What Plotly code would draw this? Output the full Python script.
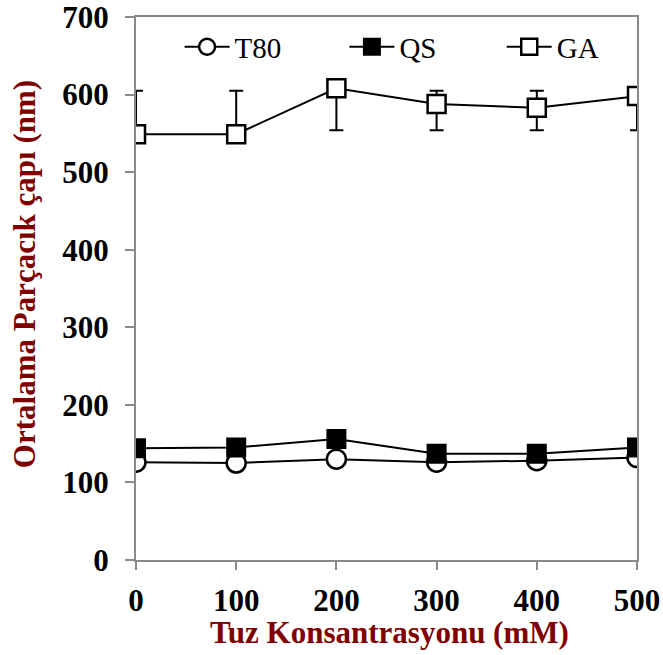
import plotly.graph_objects as go

salt = [0, 100, 200, 300, 400, 500]
t80 = [126, 125, 130, 126, 128, 132]
qs = [144, 145, 156, 137, 137, 145]
ga = [549, 549, 608, 588, 583, 598]
ga_err_plus = [56, 56, 0, 17, 22, 0]
ga_err_minus = [0, 0, 54, 34, 29, 44]

x_ticks = [0, 100, 200, 300, 400, 500]
y_ticks = [0, 100, 200, 300, 400, 500, 600, 700]

dark_red = "#7f0000"
axis_gray = "#8a8a8a"
serif = "Liberation Serif, Times New Roman, serif"

fig = go.Figure()

fig.add_trace(go.Scatter(
    x=salt, y=t80, name="T80", mode="lines+markers", legend="legend",
    line=dict(color="black", width=2),
    marker=dict(symbol="circle", size=19, color="white",
                line=dict(color="black", width=2.5)),
))
fig.add_trace(go.Scatter(
    x=salt, y=qs, name="QS", mode="lines+markers", legend="legend2",
    line=dict(color="black", width=2),
    marker=dict(symbol="square", size=18, color="black",
                line=dict(color="black", width=2)),
))
fig.add_trace(go.Scatter(
    x=salt, y=ga, name="GA", mode="lines+markers", legend="legend3",
    line=dict(color="black", width=2),
    marker=dict(symbol="square", size=18, color="white",
                line=dict(color="black", width=2.5)),
    error_y=dict(type="data", symmetric=False, array=ga_err_plus,
                 arrayminus=ga_err_minus, color="black", thickness=2, width=7),
))

leg_common = dict(orientation="h", y=0.945, xanchor="left", yanchor="middle",
                  font=dict(family=serif, size=29, color="black"),
                  bgcolor="rgba(0,0,0,0)", itemwidth=45)

fig.update_layout(
    width=663, height=655,
    margin=dict(l=136, r=26, t=17, b=95, autoexpand=False),
    paper_bgcolor="white", plot_bgcolor="white",
    font=dict(family=serif, color="black"),
    showlegend=True,
    legend=dict(x=0.087, **leg_common),
    legend2=dict(x=0.416, **leg_common),
    legend3=dict(x=0.73, **leg_common),
    xaxis=dict(range=[0, 500], tickvals=x_ticks, ticktext=[str(v) for v in x_ticks],
               showgrid=False, zeroline=False, showline=True, linecolor=axis_gray,
               linewidth=2, mirror=True, ticks="outside", ticklen=8, tickwidth=2,
               tickcolor=axis_gray, automargin=False, ticklabelstandoff=4,
               ticklabeloverflow="allow",
               tickfont=dict(family=serif, size=31, color="black", weight="bold")),
    yaxis=dict(range=[0, 700], tickvals=y_ticks, ticktext=[str(v) for v in y_ticks],
               showgrid=False, zeroline=False, showline=True, linecolor=axis_gray,
               linewidth=2, mirror=True, ticks="outside", ticklen=9, tickwidth=2,
               tickcolor=axis_gray, automargin=False, ticklabelstandoff=10,
               ticklabeloverflow="allow",
               tickfont=dict(family=serif, size=31, color="black", weight="bold")),
    annotations=[
        dict(text="Tuz Konsantrasyonu (mM)", xref="paper", yref="paper",
             x=0.506, y=-0.1326, xanchor="center", yanchor="middle", showarrow=False,
             font=dict(family=serif, size=31, color=dark_red, weight="bold")),
        dict(text="Ortalama Parçacık çapı (nm)", xref="paper", yref="paper",
             x=-0.222, y=0.526, xanchor="center", yanchor="middle", showarrow=False,
             textangle=-90,
             font=dict(family=serif, size=31, color=dark_red, weight="bold")),
    ],
)

fig.write_html("out.html")
